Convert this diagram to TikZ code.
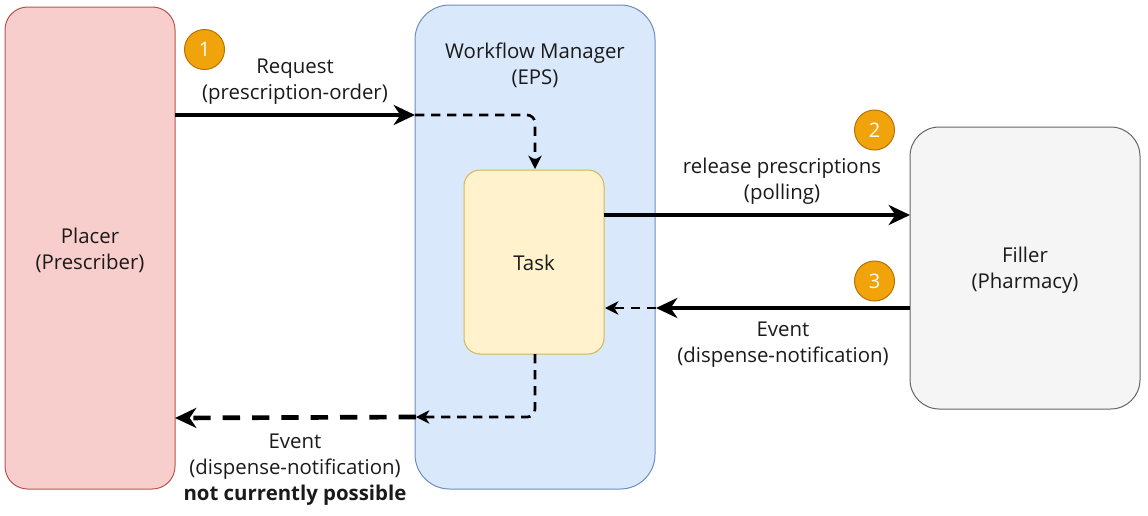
\documentclass[tikz,border=0pt]{standalone}
\usepackage{fontspec}
\setmainfont{Open Sans}
\usetikzlibrary{arrows.meta}
\definecolor{placerfill}{HTML}{F8CECC}
\definecolor{placerdraw}{HTML}{B85450}
\definecolor{wfmfill}{HTML}{DAE8FC}
\definecolor{wfmdraw}{HTML}{6C8EBF}
\definecolor{taskfill}{HTML}{FFF2CC}
\definecolor{taskdraw}{HTML}{D6B656}
\definecolor{fillerfill}{HTML}{F5F5F5}
\definecolor{fillerdraw}{HTML}{666666}
\definecolor{badgefill}{HTML}{F0A30A}
\definecolor{badgedraw}{HTML}{BD7000}
\definecolor{txt}{HTML}{1A1A1A}
\begin{document}
\begin{tikzpicture}[x=0.75pt,y=-0.75pt,
  every node/.style={font=\fontsize{15.3}{19.5}\selectfont, text=txt, align=center},
  box/.style={draw, line width=0.75pt, inner sep=0pt},
  badge/.style={circle, fill=badgefill, draw=badgedraw, line width=0.75pt, minimum size=30pt, inner sep=0pt, text=white, font=\fontsize{15}{17}\selectfont},
  tip/.style={-{Stealth[length=16pt,width=15pt,inset=5pt]}},
  tipsmall/.style={-{Stealth[length=10pt,width=10pt,inset=3pt]}},
  bold/.style={line width=3.5pt},
  thindash/.style={line width=2pt, dash pattern=on 7pt off 5pt},
  thickdash/.style={line width=3.5pt, dash pattern=on 13pt off 9pt},
  lbl/.style={inner sep=0pt}]
\useasboundingbox (0,0) rectangle (1148,515);
% boxes
\draw[box, fill=placerfill, draw=placerdraw, rounded corners=17pt] (5,7) rectangle (175,489);
\node[lbl] (placer) at (90,250) {Placer\\(Prescriber)};
\draw[box, fill=wfmfill, draw=wfmdraw, rounded corners=26pt] (415,5) rectangle (655,489);
\node[lbl] (wfm) at (535,65) {Workflow Manager\\(EPS)};
\draw[box, fill=taskfill, draw=taskdraw, rounded corners=12pt] (464,170) rectangle (604,354);
\node[lbl] (task) at (534,263) {Task};
\draw[box, fill=fillerfill, draw=fillerdraw, rounded corners=22pt] (910,127) rectangle (1140,409);
\node[lbl] (filler) at (1025,270) {Filler\\(Pharmacy)};
% coordinates
\coordinate (p1) at (175,115);
\coordinate (w1) at (415,115);
\coordinate (t1) at (535,169);
\coordinate (tR1) at (604,215);
\coordinate (fL1) at (910,215);
\coordinate (fL2) at (910,308);
\coordinate (w2) at (656,308);
\coordinate (tR2) at (605,308);
\coordinate (tB) at (535,354);
\coordinate (w3) at (416,417);
\coordinate (p2) at (175,418);
% badges
\node[badge] (b1) at (204.5,49.5) {1};
\node[badge] (b2) at (874.5,130) {2};
\node[badge] (b3) at (874.5,281) {3};
% connectors
\draw[bold, tip] (p1) -- (w1);
\draw[thindash, tipsmall, rounded corners=6pt] (w1) -- (535,115) -- (t1);
\draw[bold, tip] (tR1) -- (fL1);
\draw[bold, tip] (fL2) -- (w2);
\draw[thindash, tipsmall] (w2) -- (tR2);
\draw[thindash, tipsmall, rounded corners=6pt] (tB) -- (535,417) -- (w3);
\draw[thickdash, tip] (w3) -- (p2);
% labels
\node[lbl] (l1) at (295,82) {Request\\(prescription-order)};
\node[lbl] (l2) at (782,181) {release prescriptions\\(polling)};
\node[lbl] (l3) at (783,345) {Event\\(dispense-notification)};
\node[lbl] (l4) at (295,470) {Event\\(dispense-notification)\\\textbf{not currently possible}};
\end{tikzpicture}
\end{document}
